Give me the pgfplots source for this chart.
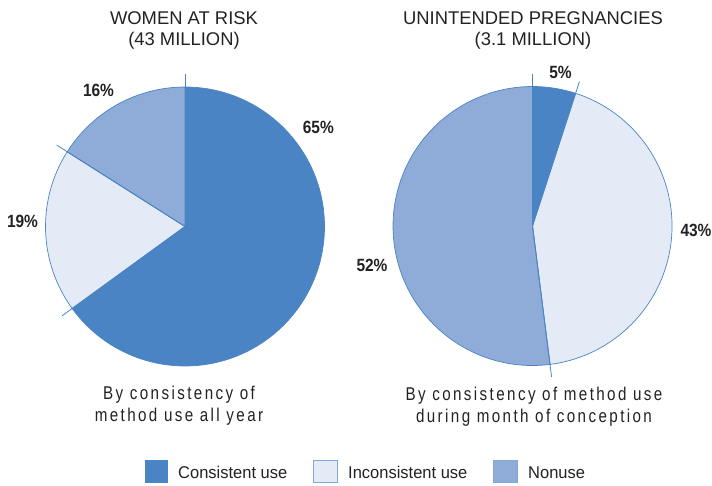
\documentclass[border=0pt]{standalone}
\usepackage{pgfplots}
\pgfplotsset{compat=1.18}
\usepackage{fontspec}
\setmainfont{Liberation Sans}
\newfontfamily\pctfont[FakeStretch=0.875]{Liberation Sans}
\newfontfamily\subfont[FakeStretch=0.82,LetterSpace=13]{Liberation Sans}
\newfontfamily\legfont[FakeStretch=0.97]{Liberation Sans}
\definecolor{cons}{HTML}{4A84C4}
\definecolor{incons}{HTML}{E4EAF6}
\definecolor{nonuse}{HTML}{8FACD9}
\definecolor{txt}{HTML}{222222}
% slice: center x, center y, start %, end %, colour
\newcommand{\slice}[5]{%
  \filldraw[fill=#5, draw=cons, line width=0.7pt]
    (axis cs:#1,#2) -- ++({90-3.6*#3}:139.5pt)
    arc[start angle={90-3.6*#3}, end angle={90-3.6*#4}, radius=139.5pt] -- cycle;}
\newcommand{\leader}[3]{%
  \draw[cons, line width=0.8pt] (axis cs:#1,#2) -- ++({90-3.6*#3}:152pt);}
\begin{document}
\begin{tikzpicture}
\begin{axis}[x=1pt, y=1pt, xmin=0, xmax=712, ymin=0, ymax=485,
  hide axis, clip=false, scale only axis]
\path (axis cs:0,0) rectangle (axis cs:712,485);
% ---- left pie: women at risk (43 million)
\slice{185}{258.5}{0}{65}{cons}
\slice{185}{258.5}{65}{84}{incons}
\slice{185}{258.5}{84}{100}{nonuse}
\leader{185}{258.5}{0}
\leader{185}{258.5}{65}
\leader{185}{258.5}{84}
% ---- right pie: unintended pregnancies (3.1 million)
\slice{532.5}{259}{0}{5}{cons}
\slice{532.5}{259}{5}{48}{incons}
\slice{532.5}{259}{48}{100}{nonuse}
\leader{532.5}{259}{0}
\leader{532.5}{259}{5}
\leader{532.5}{259}{48}
% ---- titles
\node[anchor=base, inner sep=0, text=txt, font=\fontsize{18.4}{21}\selectfont] at (axis cs:184,460) {WOMEN AT RISK};
\node[anchor=base, inner sep=0, text=txt, font=\fontsize{18.4}{21}\selectfont] at (axis cs:184,439) {(43 MILLION)};
\node[anchor=base, inner sep=0, text=txt, font=\fontsize{18.4}{21}\selectfont] at (axis cs:533,460) {UNINTENDED PREGNANCIES};
\node[anchor=base, inner sep=0, text=txt, font=\fontsize{18.4}{21}\selectfont] at (axis cs:533,439) {(3.1 MILLION)};
% ---- percentages
\node[anchor=base, inner sep=0, text=txt, font=\pctfont\bfseries\fontsize{17.7}{20}\selectfont] at (axis cs:318.3,351.7) {65\%};
\node[anchor=base, inner sep=0, text=txt, font=\pctfont\bfseries\fontsize{17.7}{20}\selectfont] at (axis cs:22.5,257) {19\%};
\node[anchor=base, inner sep=0, text=txt, font=\pctfont\bfseries\fontsize{17.7}{20}\selectfont] at (axis cs:98.5,388) {16\%};
\node[anchor=base, inner sep=0, text=txt, font=\pctfont\bfseries\fontsize{17.7}{20}\selectfont] at (axis cs:560.5,406) {5\%};
\node[anchor=base, inner sep=0, text=txt, font=\pctfont\bfseries\fontsize{17.7}{20}\selectfont] at (axis cs:696,248.3) {43\%};
\node[anchor=base, inner sep=0, text=txt, font=\pctfont\bfseries\fontsize{17.7}{20}\selectfont] at (axis cs:372,213.3) {52\%};
% ---- subtitles
\node[anchor=base, inner sep=0, text=txt, font=\subfont\fontsize{18.5}{22}\selectfont] at (axis cs:179,86) {By consistency of};
\node[anchor=base, inner sep=0, text=txt, font=\subfont\fontsize{18.5}{22}\selectfont] at (axis cs:179,64) {method use all year};
\node[anchor=base, inner sep=0, text=txt, font=\subfont\fontsize{18.5}{22}\selectfont] at (axis cs:534,85) {By consistency of method use};
\node[anchor=base, inner sep=0, text=txt, font=\subfont\fontsize{18.5}{22}\selectfont] at (axis cs:534,63) {during month of conception};
% ---- legend
\fill[cons] (axis cs:145,2) rectangle (axis cs:168,25);
\filldraw[fill=incons, draw=cons!70, line width=0.6pt] (axis cs:313,2.5) rectangle (axis cs:337,24.5);
\filldraw[fill=nonuse, draw=cons!70, line width=0.6pt] (axis cs:493,2.5) rectangle (axis cs:517,24.5);
\node[anchor=base west, inner sep=0, text=txt, font=\legfont\fontsize{17}{20}\selectfont] at (axis cs:178,6.5) {Consistent use};
\node[anchor=base west, inner sep=0, text=txt, font=\legfont\fontsize{17}{20}\selectfont] at (axis cs:348,6.5) {Inconsistent use};
\node[anchor=base west, inner sep=0, text=txt, font=\legfont\fontsize{17}{20}\selectfont] at (axis cs:528,6.5) {Nonuse};
\end{axis}
\end{tikzpicture}
\end{document}
